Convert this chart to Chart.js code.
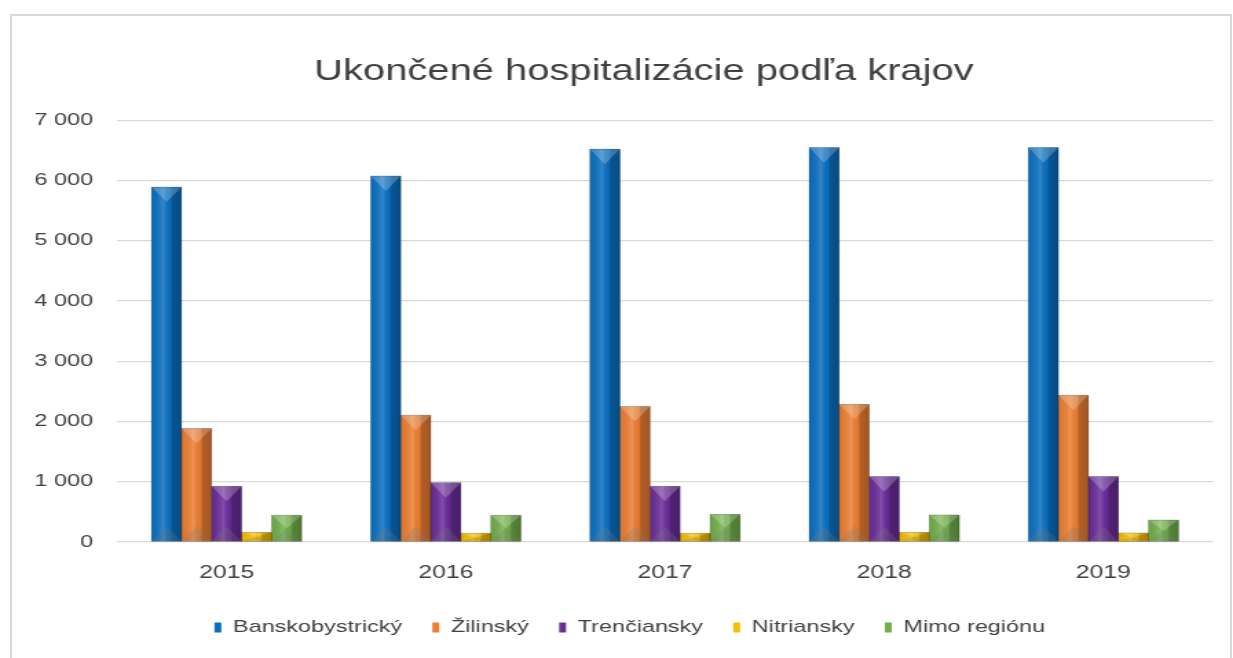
<!DOCTYPE html>
<html>
<head>
<meta charset="utf-8">
<script src="https://cdn.jsdelivr.net/npm/chart.js@4"></script>
<style>
  body { margin: 0; background: #fff; overflow: hidden; }
  #frame { position: absolute; left: 10px; top: 14px; width: 1218px; height: 700px; border: 2px solid #d9d9d9; }
</style>
</head>
<body>
<div id="frame"></div>
<canvas id="chart" width="896" height="658" style="position:absolute;left:0;top:0;width:1233px;height:658px"></canvas>
<script>
// the original picture is stretched sideways, so the canvas is drawn narrow and widened by css
var STRETCH = 1233 / 896;

var years = ['2015', '2016', '2017', '2018', '2019'];
var banskobystricky = [5890, 6075, 6520, 6545, 6545];
var zilinsky = [1885, 2105, 2250, 2285, 2435];
var trenciansky = [925, 985, 925, 1085, 1085];
var nitriansky = [160, 145, 145, 160, 150];
var mimoRegionu = [445, 445, 460, 450, 365];
var yTicks = [0, 1000, 2000, 3000, 4000, 5000, 6000, 7000];

function fmt(v){
	return v.toString().replace(/\B(?=(\d{3})+(?!\d))/g, ' ');
}

// bevel look of the excel bars
var bevel = {
	id: 'bevel',
	afterLayout: function(chart){
		// title and legend sit a bit right of centre in the original
		chart.legend.left += 4.4; chart.legend.right += 4.4;
		chart.titleBlock.left += 14.7; chart.titleBlock.right += 14.7;
	},
	afterDatasetsDraw: function(chart){
		var ctx = chart.ctx;
		chart.data.datasets.forEach(function(ds, i){
			var meta = chart.getDatasetMeta(i);
			if (meta.hidden) return;
			meta.data.forEach(function(bar){
				var p = bar.getProps(['x', 'y', 'base', 'width'], true);
				var l = p.x - p.width / 2, r = p.x + p.width / 2;
				var t = Math.min(p.y, p.base), b = Math.max(p.y, p.base);
				var h = b - t;
				var d = Math.min(p.width * STRETCH / 2, h / 2);
				ctx.save();
				var g = ctx.createLinearGradient(l, 0, r, 0);
				g.addColorStop(0, 'rgba(0,0,0,0.06)');
				g.addColorStop(0.4, 'rgba(255,255,255,0.16)');
				g.addColorStop(0.62, 'rgba(0,0,0,0.04)');
				g.addColorStop(0.7, 'rgba(0,0,0,0.25)');
				g.addColorStop(1, 'rgba(0,0,0,0.32)');
				ctx.fillStyle = g;
				ctx.fillRect(l, t, p.width, h);
				ctx.beginPath();
				ctx.moveTo(l, t); ctx.lineTo(r, t); ctx.lineTo(p.x, t + d); ctx.closePath();
				ctx.fillStyle = 'rgba(255,255,255,0.22)';
				ctx.fill();
				ctx.beginPath();
				ctx.moveTo(l, b); ctx.lineTo(r, b); ctx.lineTo(p.x, b - d); ctx.closePath();
				ctx.fillStyle = 'rgba(120,120,120,0.25)';
				ctx.fill();
				ctx.strokeStyle = 'rgba(0,0,0,0.25)';
				ctx.lineWidth = 0.7;
				ctx.strokeRect(l, t, p.width, h);
				ctx.restore();
			});
		});
	}
};

var chartdata = {
	labels: years,
	datasets: [
		{ label: 'Banskobystrický', backgroundColor: '#0a70c2', data: banskobystricky },
		{ label: 'Žilinský', backgroundColor: '#ee7f32', data: zilinsky },
		{ label: 'Trenčiansky', backgroundColor: '#6a2c9a', data: trenciansky },
		{ label: 'Nitriansky', backgroundColor: '#f6bd00', data: nitriansky },
		{ label: 'Mimo regiónu', backgroundColor: '#72b04a', data: mimoRegionu }
	]
};

var ctx = document.getElementById('chart');
var barGraph = new Chart(ctx, {
	type: 'bar',
	data: chartdata,
	plugins: [bevel],
	options: {
		responsive: false,
		devicePixelRatio: 1,
		animation: false,
		layout: { padding: { left: 25, right: 14.5, top: 0, bottom: 12 } },
		datasets: { bar: { categoryPercentage: 0.685, barPercentage: 1, borderWidth: 0 } },
		plugins: {
			title: {
				display: true,
				text: 'Ukončené hospitalizácie podľa krajov',
				color: '#404040',
				font: { family: '"Liberation Sans", Arial, sans-serif', size: 29, weight: 'normal' },
				padding: { top: 55, bottom: 30.4 }
			},
			legend: {
				position: 'bottom',
				labels: {
					color: '#404040',
					font: { family: '"Liberation Sans", Arial, sans-serif', size: 17 },
					boxWidth: 5,
					boxHeight: 10,
					padding: 22
				}
			},
			tooltip: { enabled: false }
		},
		scales: {
			x: {
				grid: { display: false },
				border: { display: false },
				ticks: {
					color: '#404040',
					padding: 12,
					font: { family: '"Liberation Sans", Arial, sans-serif', size: 18 }
				},
				afterFit: function(axis){ axis.height = 55; }
			},
			y: {
				min: 0,
				max: 7000,
				afterBuildTicks: function(axis){
					axis.ticks = yTicks.map(function(v){ return { value: v }; });
				},
				afterFit: function(axis){ axis.width = 60; },
				grid: { color: '#d9d9d9', lineWidth: 1.3, drawTicks: false },
				border: { display: false },
				ticks: {
					color: '#404040',
					padding: 17.4,
					font: { family: '"Liberation Sans", Arial, sans-serif', size: 17 },
					callback: function(v){ return fmt(v); }
				}
			}
		}
	}
});
</script>
</body>
</html>
